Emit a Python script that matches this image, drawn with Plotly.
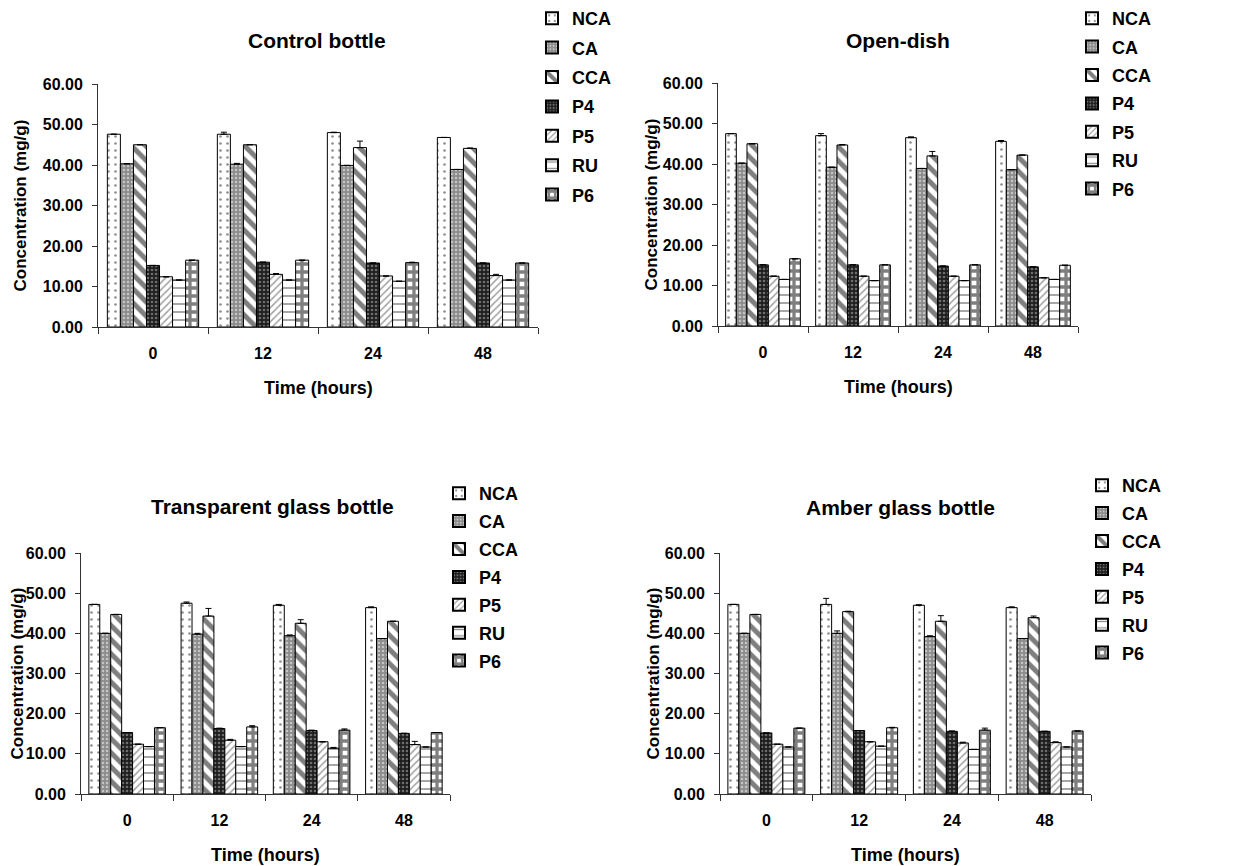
import plotly.graph_objects as go

W, H = 1257, 866

time_labels = ["0", "12", "24", "48"]
series_names = ["NCA", "CA", "CCA", "P4", "P5", "RU", "P6"]

# values per series (order: NCA, CA, CCA, P4, P5, RU, P6), per time point
control_bottle = [
    [47.6, 47.6, 48.0, 46.8],
    [40.3, 40.2, 39.9, 38.9],
    [45.0, 45.0, 44.3, 44.1],
    [15.2, 16.0, 15.8, 15.8],
    [12.4, 13.0, 12.6, 12.7],
    [11.6, 11.6, 11.3, 11.6],
    [16.5, 16.5, 15.9, 15.8],
]
control_bottle_err = [
    [0.0, 0.5, 0.1, 0.0],
    [0.0, 0.2, 0.0, 0.0],
    [0.0, 0.0, 1.6, 0.1],
    [0.0, 0.0, 0.0, 0.0],
    [0.0, 0.2, 0.0, 0.3],
    [0.0, 0.0, 0.0, 0.0],
    [0.0, 0.0, 0.1, 0.0],
]

open_dish = [
    [47.5, 47.0, 46.5, 45.6],
    [40.2, 39.2, 38.9, 38.6],
    [45.0, 44.7, 42.0, 42.2],
    [15.1, 15.1, 14.8, 14.6],
    [12.3, 12.3, 12.3, 11.9],
    [11.5, 11.2, 11.2, 11.5],
    [16.6, 15.1, 15.1, 15.0],
]
open_dish_err = [
    [0.0, 0.5, 0.2, 0.2],
    [0.0, 0.0, 0.0, 0.0],
    [0.0, 0.1, 1.1, 0.0],
    [0.0, 0.0, 0.0, 0.0],
    [0.0, 0.0, 0.0, 0.0],
    [0.0, 0.0, 0.0, 0.0],
    [0.0, 0.0, 0.0, 0.0],
]

transparent_glass = [
    [47.2, 47.5, 47.0, 46.4],
    [40.0, 39.8, 39.4, 38.7],
    [44.7, 44.3, 42.5, 43.0],
    [15.3, 16.3, 15.8, 15.1],
    [12.4, 13.4, 13.0, 12.3],
    [11.8, 11.8, 11.4, 11.7],
    [16.5, 16.7, 15.9, 15.3],
]
transparent_glass_err = [
    [0.0, 0.3, 0.2, 0.2],
    [0.0, 0.2, 0.2, 0.0],
    [0.0, 1.9, 0.9, 0.0],
    [0.0, 0.1, 0.1, 0.0],
    [0.0, 0.2, 0.0, 0.8],
    [0.0, 0.0, 0.2, 0.0],
    [0.0, 0.3, 0.3, 0.0],
]

amber_glass = [
    [47.2, 47.2, 47.0, 46.4],
    [40.0, 40.0, 39.2, 38.7],
    [44.7, 45.4, 43.0, 43.9],
    [15.2, 15.8, 15.6, 15.6],
    [12.4, 13.0, 12.7, 12.8],
    [11.7, 11.9, 11.1, 11.7],
    [16.4, 16.5, 15.9, 15.7],
]
amber_glass_err = [
    [0.0, 1.5, 0.1, 0.2],
    [0.0, 0.6, 0.2, 0.0],
    [0.0, 0.1, 1.4, 0.4],
    [0.0, 0.0, 0.1, 0.0],
    [0.0, 0.0, 0.2, 0.2],
    [0.0, 0.0, 0.0, 0.0],
    [0.0, 0.1, 0.5, 0.0],
]

panel_titles = ["Control bottle", "Open-dish", "Transparent glass bottle", "Amber glass bottle"]
x_title = "Time (hours)"
y_title = "Concentration (mg/g)"

# ---- styling ----
FONT = "Liberation Sans, Arial, sans-serif"
patterns = [
    dict(shape=".", fgcolor="#222222", bgcolor="white", size=7, solidity=0.12),
    dict(shape=".", fgcolor="white", bgcolor="#8c8c8c", size=4, solidity=0.3),
    dict(shape="\\", fgcolor="black", bgcolor="white", size=10, solidity=0.5),
    dict(shape=".", fgcolor="#bbbbbb", bgcolor="#1e1e1e", size=4, solidity=0.35),
    dict(shape="/", fgcolor="#444444", bgcolor="white", size=5, solidity=0.3),
    dict(shape="-", fgcolor="#222222", bgcolor="white", size=8, solidity=0.2),
    dict(shape="+", fgcolor="black", bgcolor="white", size=8, solidity=0.65),
]

# pixel layout: (x_left, x_right, y_top(60), y_bottom(0))
boxes = [
    (98, 538, 84, 327),
    (718, 1078, 83, 326),
    (81, 450, 553, 794),
    (720, 1091, 553, 794),
]
ytitle_off = [78, 67, 64, 67]
title_pos = [(317, 40), (898, 40), (272, 506), (900, 508)]
legend_pos = [(532, 0), (1072, 0), (439, 475), (1082, 467)]
legend_gap = [3, 2, 1.5, 1.5]

datasets = [
    (control_bottle, control_bottle_err),
    (open_dish, open_dish_err),
    (transparent_glass, transparent_glass_err),
    (amber_glass, amber_glass_err),
]

fig = go.Figure()
layout = dict(
    width=W, height=H,
    margin=dict(l=0, r=0, t=0, b=0),
    paper_bgcolor="white", plot_bgcolor="white",
    barmode="group", bargap=0.17, bargroupgap=0.0,
    showlegend=True,
    font=dict(family=FONT, color="black"),
    annotations=[],
)

for p, (vals, errs) in enumerate(datasets):
    idx = "" if p == 0 else str(p + 1)
    lg = "legend" if p == 0 else "legend" + str(p + 1)
    for s, name in enumerate(series_names):
        fig.add_trace(go.Bar(
            x=time_labels, y=vals[s], name=name,
            xaxis="x" + idx, yaxis="y" + idx,
            legend=lg, legendgroup=f"p{p}_{name}",
            marker=dict(color=patterns[s]["bgcolor"], pattern=patterns[s],
                        line=dict(color="black", width=1)),
            error_y=dict(type="data", array=errs[s], arrayminus=[0] * 4,
                         symmetric=False, color="black", thickness=1, width=3),
        ))
    xl, xr, yt, yb = boxes[p]
    layout["xaxis" + idx] = dict(
        domain=[xl / W, xr / W], anchor="y" + idx, type="category",
        showline=True, linecolor="#333333", linewidth=1,
        ticks="outside", tickson="boundaries", ticklen=6, tickcolor="#333333",
        ticklabelstandoff=12,
        tickfont=dict(family=FONT, size=16, weight="bold"),
        showgrid=False, zeroline=False, automargin=False,
    )
    layout["yaxis" + idx] = dict(
        domain=[1 - yb / H, 1 - yt / H], anchor="x" + idx,
        range=[0, 60], dtick=10, tickformat=".2f",
        showline=True, linecolor="#333333", linewidth=1,
        ticks="outside", ticklen=5, tickcolor="#333333",
        ticklabelstandoff=6,
        tickfont=dict(family=FONT, size=16, weight="bold"),
        showgrid=False, zeroline=False, automargin=False,
    )
    lx, ly = legend_pos[p]
    layout[lg] = dict(
        x=lx / W, y=1 - ly / H, xanchor="left", yanchor="top",
        xref="paper", yref="paper",
        font=dict(family=FONT, size=18, weight="bold"),
        bgcolor="rgba(0,0,0,0)", borderwidth=0,
        tracegroupgap=legend_gap[p], itemsizing="constant",
    )
    tx, ty = title_pos[p]
    layout["annotations"].append(dict(
        text=panel_titles[p], x=tx / W, y=1 - ty / H, xref="paper", yref="paper",
        xanchor="center", yanchor="middle", showarrow=False,
        font=dict(family=FONT, size=21, weight="bold"),
    ))
    layout["annotations"].append(dict(
        text=x_title, x=(xl + xr) / 2 / W, y=1 - (yb + 61) / H, xref="paper", yref="paper",
        xanchor="center", yanchor="middle", showarrow=False,
        font=dict(family=FONT, size=18, weight="bold"),
    ))
    layout["annotations"].append(dict(
        text=y_title, x=(xl - ytitle_off[p]) / W, y=1 - (yt + yb) / 2 / H, xref="paper", yref="paper",
        xanchor="center", yanchor="middle", showarrow=False, textangle=-90,
        font=dict(family=FONT, size=17, weight="bold"),
    ))

fig.update_layout(**layout)
fig.write_html("out.html")
